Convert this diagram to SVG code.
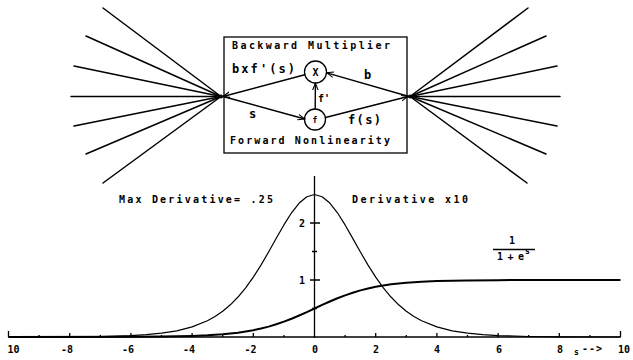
<svg xmlns="http://www.w3.org/2000/svg" width="633" height="360" viewBox="0 0 633 360">
<defs>
<style>
.t{font-family:"DejaVu Sans Mono","Liberation Mono",monospace;font-weight:bold;font-size:10px;fill:#000}
.big{font-size:12px}
.sm{font-size:8px}
.ln{stroke:#000;fill:none;stroke-width:1.4;stroke-linecap:round}
.fan{stroke:#000;fill:none;stroke-width:1.5;stroke-linecap:round}
.ax{stroke:#000;fill:none;stroke-width:1.3}
.tk{stroke:#000;fill:none;stroke-width:1.3}
.c1{stroke:#000;fill:none;stroke-width:1.2;stroke-linejoin:round}
.c2{stroke:#000;fill:none;stroke-width:2;stroke-linejoin:round}
</style>
<marker id="ah" viewBox="0 0 10 10" refX="10" refY="5" markerWidth="7" markerHeight="7" orient="auto" markerUnits="userSpaceOnUse">
<path d="M0,1 L10,5 L0,9" fill="none" stroke="#000" stroke-width="1.5"/>
</marker>
</defs>
<rect width="633" height="360" fill="#fff"/>

<g id="fan-left">
<line class="fan" x1="221" y1="96.5" x2="103" y2="8"/>
<line class="fan" x1="221" y1="96.5" x2="86" y2="36"/>
<line class="fan" x1="221" y1="96.5" x2="74" y2="66"/>
<line class="fan" x1="221" y1="96.5" x2="71" y2="96.5"/>
<line class="fan" x1="221" y1="96.5" x2="74" y2="126"/>
<line class="fan" x1="221" y1="96.5" x2="86" y2="154"/>
<line class="fan" x1="221" y1="96.5" x2="103" y2="183"/>
<circle cx="221" cy="96.5" r="2" fill="#000"/>
</g>
<g id="fan-right">
<line class="fan" x1="410" y1="96.5" x2="528" y2="8"/>
<line class="fan" x1="410" y1="96.5" x2="546" y2="36"/>
<line class="fan" x1="410" y1="96.5" x2="557" y2="66"/>
<line class="fan" x1="410" y1="96.5" x2="560" y2="96.5"/>
<line class="fan" x1="410" y1="96.5" x2="557" y2="126"/>
<line class="fan" x1="410" y1="96.5" x2="546" y2="154"/>
<line class="fan" x1="410" y1="96.5" x2="527" y2="183"/>
<circle cx="410" cy="96.5" r="2" fill="#000"/>
</g>

<g id="unit-box">
<rect x="224" y="37" width="183" height="116" fill="none" stroke="#000" stroke-width="1.3"/>
<text class="t" x="232" y="48.5" textLength="158" lengthAdjust="spacing">Backward  Multiplier</text>
<text class="t" x="230" y="143.5" textLength="160" lengthAdjust="spacing">Forward Nonlinearity</text>
</g>
<g id="node-x">
<circle cx="315.5" cy="72" r="11" fill="#fff" stroke="#000" stroke-width="1.3"/>
<text class="t" x="315.5" y="76" text-anchor="middle">X</text>
</g>
<g id="node-f">
<circle cx="315" cy="119.5" r="10.5" fill="#fff" stroke="#000" stroke-width="1.3"/>
<text class="t sm" x="315" y="122.5" text-anchor="middle">f</text>
</g>

<g id="connectors">
<line class="ln" x1="304.8" y1="74.8" x2="223" y2="96.5" marker-end="url(#ah)"/>
<line class="ln" x1="223" y1="96.5" x2="304.8" y2="119" marker-end="url(#ah)"/>
<line class="ln" x1="315.2" y1="109" x2="315.4" y2="83.2" marker-end="url(#ah)"/>
<line class="ln" x1="409" y1="96.5" x2="326.8" y2="72.8" marker-end="url(#ah)"/>
<line class="ln" x1="325.5" y1="117.5" x2="408" y2="96.5" marker-end="url(#ah)"/>
</g>
<g id="connector-labels">
<text class="t big" x="232" y="72.5" textLength="63" lengthAdjust="spacing">bxf'(s)</text>
<text class="t big" x="364" y="79">b</text>
<text class="t big" x="249" y="118">s</text>
<text class="t" x="318" y="102">f'</text>
<text class="t big" x="348" y="123.5" textLength="33" lengthAdjust="spacing">f(s)</text>
</g>

<g id="plot">
<line class="ax" x1="8.5" y1="337" x2="620.5" y2="337"/>
<line class="ax" x1="314.5" y1="176" x2="314.5" y2="338"/>
<path class="tk" d="M8.5,337V331 M39.1,337v-2 M69.7,337v-4 M100.3,337v-2 M130.9,337v-4 M161.5,337v-2 M192.1,337v-4 M222.7,337v-2 M253.3,337v-4 M283.9,337v-2 M345.1,337v-2 M375.7,337v-4 M406.3,337v-2 M436.9,337v-4 M467.5,337v-2 M498.1,337v-4 M528.7,337v-2 M559.3,337v-4 M589.9,337v-2 M620.5,337V331"/>
<path class="tk" d="M310,223H320 M310,280H320 M312,251.5H317 M312,308.5H317"/>
<text class="t" x="302" y="227" text-anchor="middle">2</text>
<text class="t" x="302" y="284" text-anchor="middle">1</text>
<g class="t" text-anchor="middle">
<text x="13.5" y="353">10</text>
<text x="67" y="353">-8</text>
<text x="128" y="353">-6</text>
<text x="189" y="353">-4</text>
<text x="250.5" y="353">-2</text>
<text x="315" y="353">0</text>
<text x="376" y="353">2</text>
<text x="437" y="353">4</text>
<text x="499" y="353">6</text>
<text x="560" y="353">8</text>
</g>
<text class="t sm" x="574" y="355">s</text>
<text class="t" x="582" y="352" textLength="20" lengthAdjust="spacing">--&gt;</text>
<text class="t" x="618" y="353">10</text>

<path class="c1" d="M8.5,337 L69.7,336.81 L100.3,336.48 L130.9,335.59 L146.2,334.68 L161.5,333.21 L176.8,330.8 L192.1,326.93 L207.4,320.79 L215.05,316.53 L222.7,311.26 L230.35,304.8 L238,297.02 L245.65,287.87 L253.3,277.16 L260.95,265.12 L268.6,252 L276.25,238.33 L283.9,224.93 L291.55,212.8 L299.2,203.06 L306.85,196.71 L314.5,194.5 L322.15,196.71 L329.8,203.06 L337.45,212.8 L345.1,224.93 L352.75,238.33 L360.4,252 L368.05,265.12 L375.7,277.16 L383.35,287.87 L391,297.02 L398.65,304.8 L406.3,311.26 L413.95,316.53 L421.6,320.79 L436.9,326.93 L452.2,330.8 L467.5,333.21 L482.8,334.68 L498.1,335.59 L528.7,336.48 L559.3,336.81 L620.5,337"/>
<path class="c2" d="M8.5,337 L130.9,336.86 L161.5,336.62 L192.1,335.97 L207.4,335.33 L222.7,334.3 L238,332.67 L253.3,330.21 L260.95,328.56 L268.6,326.6 L276.25,324.31 L283.9,321.67 L291.55,318.71 L299.2,315.48 L306.85,312.05 L314.5,308.5 L322.15,304.95 L329.8,301.52 L337.45,298.29 L345.1,295.33 L352.75,292.69 L360.4,290.4 L368.05,288.44 L375.7,286.79 L391,284.33 L406.3,282.7 L421.6,281.67 L436.9,281.03 L467.5,280.38 L498.1,280.14 L559.3,280.02 L620.5,280"/>

<text class="t" x="119" y="202.5" textLength="154" lengthAdjust="spacing">Max Derivative= .25</text>
<text class="t" x="352" y="202.5" textLength="116" lengthAdjust="spacing">Derivative x10</text>
<text class="t" x="512" y="243.5" text-anchor="middle">1</text>
<line x1="493" y1="249.5" x2="535" y2="249.5" stroke="#000" stroke-width="1.5"/>
<text class="t" x="497" y="259.5" textLength="27" lengthAdjust="spacing">1+e</text>
<text class="t sm" x="525" y="254">s</text>
</g>
</svg>
